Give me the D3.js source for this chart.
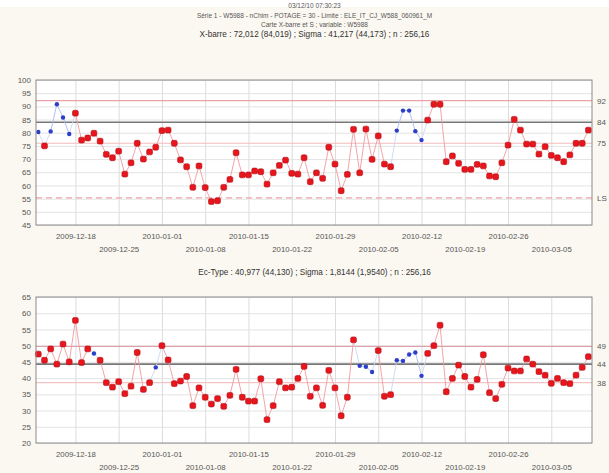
<!DOCTYPE html>
<html>
<head>
<meta charset="utf-8">
<script src="https://cdn.jsdelivr.net/npm/d3@7"></script>
<style>
  body { margin: 0; background: #fff; }
  svg { display: block; font-family: "Liberation Sans", Arial, sans-serif; }
</style>
</head>
<body>
<div id="chart"></div>
<script>
// daily samples, 2009-12-12 .. 2010-03-11
const startDay = '2009-12-12';
const endDay = '2010-03-12';

const xbar = [
  80.3, 75.0, 80.5, 90.8, 85.8, 79.5, 87.4, 77.2, 78.0, 79.8,
  76.8, 71.8, 70.5, 73.0, 64.3, 68.6, 76.0, 70.0, 72.7, 74.5,
  80.8, 81.0, 76.0, 69.7, 67.1, 59.3, 67.4, 59.2, 53.9, 54.2,
  59.3, 62.3, 72.4, 64.0, 64.0, 65.5, 65.2, 60.5, 64.8, 67.6,
  69.6, 64.6, 64.3, 70.5, 61.4, 64.8, 62.7, 74.5, 68.1, 58.0,
  64.2, 81.3, 64.8, 81.4, 69.9, 78.8, 68.1, 67.1, 80.8, 88.4,
  88.4, 80.6, 77.2, 84.8, 90.8, 90.8, 69.0, 71.2, 68.4, 66.1,
  66.1, 68.0, 67.4, 63.6, 63.3, 68.6, 75.3, 85.1, 81.0, 75.7,
  75.7, 71.9, 74.7, 71.4, 70.5, 69.0, 71.6, 76.0, 76.0, 81.0
];

const stdev = [
  47.4, 45.5, 49.0, 44.3, 50.5, 45.0, 57.8, 44.8, 49.0, 47.6,
  45.5, 38.6, 37.2, 38.9, 35.2, 37.5, 47.9, 36.5, 38.6, 43.3,
  50.0, 45.6, 38.3, 39.1, 40.5, 31.5, 37.0, 34.1, 32.0, 33.7,
  31.3, 34.7, 42.7, 34.1, 32.9, 32.9, 39.8, 27.2, 31.5, 38.9,
  37.0, 37.2, 39.9, 43.6, 34.4, 37.0, 31.6, 42.4, 37.0, 28.4,
  34.1, 51.8, 43.8, 43.5, 41.9, 48.5, 34.4, 34.9, 45.5, 45.3,
  47.3, 47.9, 40.7, 47.6, 50.0, 56.3, 35.8, 39.9, 44.0, 40.5,
  37.2, 39.6, 47.2, 35.5, 33.7, 38.1, 43.1, 42.2, 42.2, 45.9,
  44.3, 42.0, 40.9, 38.4, 39.9, 38.6, 38.3, 40.9, 43.3, 46.6
];

// indices of points drawn in blue
const blueTop = [0, 2, 3, 4, 5, 58, 59, 60, 61, 62];
const blueBottom = [9, 19, 52, 53, 54, 58, 59, 60, 61, 62];

const titleLines = [
  '03/12/10 07:30:23',
  'Série 1 - W5988 - nChim - POTAGE = 30 - Limite : ELE_IT_CJ_W588_060961_M',
  'Carte X-barre et S ; variable : W5988'
];
const topTitle = 'X-barre : 72,012 (84,019) ; Sigma : 41,217 (44,173) ; n : 256,16';
const bottomTitle = 'Ec-Type : 40,977 (44,130) ; Sigma : 1,8144 (1,9540) ; n : 256,16';

const topTicks = [45, 50, 55, 60, 65, 70, 75, 80, 85, 90, 95, 100];
const bottomTicks = [20, 25, 30, 35, 40, 45, 50, 55, 60, 65];
const firstDateTick = '2009-12-18';
const lastDateTick = '2010-03-05';

const topLimits = [
  { v: 92.2, label: '92', color: '#e9a3a8', dash: null, w: 1.2 },
  { v: 84.0, label: '84', color: '#777', dash: null, w: 1.6 },
  { v: 76.0, label: '75', color: '#f2bcbc', dash: null, w: 1.2 },
  { v: 55.3, label: 'LS', color: '#f0a4a8', dash: '6,4', w: 1.2 }
];
const bottomLimits = [
  { v: 49.8, label: '49', color: '#d9a1aa', dash: null, w: 1.2 },
  { v: 44.3, label: '44', color: '#777', dash: null, w: 1.6 },
  { v: 38.6, label: '38', color: '#f3c2c2', dash: null, w: 1.2 }
];

const W = 609, H = 473;
const days = d3.utcDay.range(new Date(startDay), new Date(endDay));

const svg = d3.select('#chart').append('svg')
  .attr('width', W).attr('height', H);

svg.append('rect').attr('width', W).attr('height', H).attr('fill', '#fff');
svg.append('rect').attr('x', 0).attr('y', 7).attr('width', W).attr('height', H - 7)
  .attr('fill', '#fbf8f1');

svg.selectAll('.tl')
  .data(titleLines)
  .join('text')
  .attr('x', W / 2 + 10)
  .attr('y', (d, i) => 8 + i * 9.5)
  .attr('text-anchor', 'middle')
  .attr('font-size', 6.5)
  .attr('fill', '#555')
  .text(d => d);

const x = d3.scaleUtc()
  .domain([d3.utcHour.offset(new Date(startDay), -9), d3.utcHour.offset(new Date('2010-03-11'), 14)])
  .range([36, 592]);

// weekly ticks
const dateTicks = d3.utcDay.range(new Date(firstDateTick), d3.utcDay.offset(new Date(lastDateTick), 1), 7);
const fmt = d3.utcFormat('%Y-%m-%d');

function panel(top, bottom, domain, ticks, values, blue, limits, title, titleY) {
  const y = d3.scaleLinear().domain(domain).range([bottom, top]);
  const g = svg.append('g');

  svg.append('text')
    .attr('x', W / 2 + 10).attr('y', titleY)
    .attr('text-anchor', 'middle')
    .attr('font-size', 8.2)
    .attr('fill', '#333')
    .text(title);

  g.append('rect')
    .attr('x', x.range()[0]).attr('y', top)
    .attr('width', x.range()[1] - x.range()[0]).attr('height', bottom - top)
    .attr('fill', '#fff');

  // grid
  g.append('g')
    .attr('transform', `translate(${x.range()[0]},0)`)
    .call(d3.axisLeft(y).tickValues(ticks).tickSize(-(x.range()[1] - x.range()[0])).tickFormat(''))
    .call(a => a.select('.domain').remove())
    .call(a => a.selectAll('line').attr('stroke', '#e3e3e3'));
  g.append('g')
    .attr('transform', `translate(0,${bottom})`)
    .call(d3.axisBottom(x).tickValues(dateTicks).tickSize(-(bottom - top)).tickFormat(''))
    .call(a => a.select('.domain').remove())
    .call(a => a.selectAll('line').attr('stroke', '#dcdcdc'));

  // control limits
  g.selectAll('.lim')
    .data(limits)
    .join('line')
    .attr('x1', x.range()[0]).attr('x2', x.range()[1])
    .attr('y1', d => y(d.v)).attr('y2', d => y(d.v))
    .attr('stroke', d => d.color)
    .attr('stroke-width', d => d.w)
    .attr('stroke-dasharray', d => d.dash);

  g.selectAll('.liml')
    .data(limits)
    .join('text')
    .attr('x', x.range()[1] + 5)
    .attr('y', d => y(d.v) + 3)
    .attr('font-size', 8)
    .attr('fill', '#555')
    .text(d => d.label);

  // y labels
  g.append('g')
    .attr('transform', `translate(${x.range()[0]},0)`)
    .call(d3.axisLeft(y).tickValues(ticks).tickSize(0).tickPadding(5))
    .call(a => a.select('.domain').remove())
    .call(a => a.selectAll('text').attr('font-size', 8).attr('fill', '#555')
      .attr('font-family', '"Liberation Sans", Arial, sans-serif'));

  // x labels, alternating rows
  g.append('g')
    .attr('transform', `translate(0,${bottom})`)
    .call(d3.axisBottom(x).tickValues(dateTicks).tickSize(0).tickPadding(10).tickFormat(fmt))
    .call(a => a.select('.domain').remove())
    .call(a => a.selectAll('text').attr('font-size', 7.8).attr('fill', '#555')
      .attr('font-family', '"Liberation Sans", Arial, sans-serif')
      .attr('dy', (d, i) => i % 2 ? '2.2em' : '0.5em'));

  // series segments
  const pts = values.map((v, i) => ({ d: days[i], v, blue: blue.includes(i) }));
  g.selectAll('.seg')
    .data(pts.slice(1))
    .join('line')
    .attr('x1', (d, i) => x(pts[i].d)).attr('y1', (d, i) => y(pts[i].v))
    .attr('x2', d => x(d.d)).attr('y2', d => y(d.v))
    .attr('stroke', (d, i) => (d.blue && pts[i].blue) ? '#a9b8f0' : (d.blue || pts[i].blue) ? '#c9d8f3' : '#f19a9f')
    .attr('stroke-width', 0.9);

  g.selectAll('.pt')
    .data(pts.filter(p => !p.blue))
    .join('rect')
    .attr('x', d => x(d.d) - 2.9).attr('y', d => y(d.v) - 2.9)
    .attr('width', 5.8).attr('height', 5.8)
    .attr('rx', 1.6)
    .attr('fill', '#e8151c')
    .attr('stroke', '#b01018').attr('stroke-width', 0.6);

  g.selectAll('.bp')
    .data(pts.filter(p => p.blue))
    .join('circle')
    .attr('cx', d => x(d.d)).attr('cy', d => y(d.v))
    .attr('r', 2.2)
    .attr('fill', '#2b3fc8');

  g.append('rect')
    .attr('x', x.range()[0]).attr('y', top)
    .attr('width', x.range()[1] - x.range()[0]).attr('height', bottom - top)
    .attr('fill', 'none').attr('stroke', '#8a8a8a').attr('stroke-width', 1);
}

panel(80, 225, [45, 100], topTicks, xbar, blueTop, topLimits, topTitle, 37);
panel(297, 443, [20, 65], bottomTicks, stdev, blueBottom, bottomLimits, bottomTitle, 275);
</script>
</body>
</html>
